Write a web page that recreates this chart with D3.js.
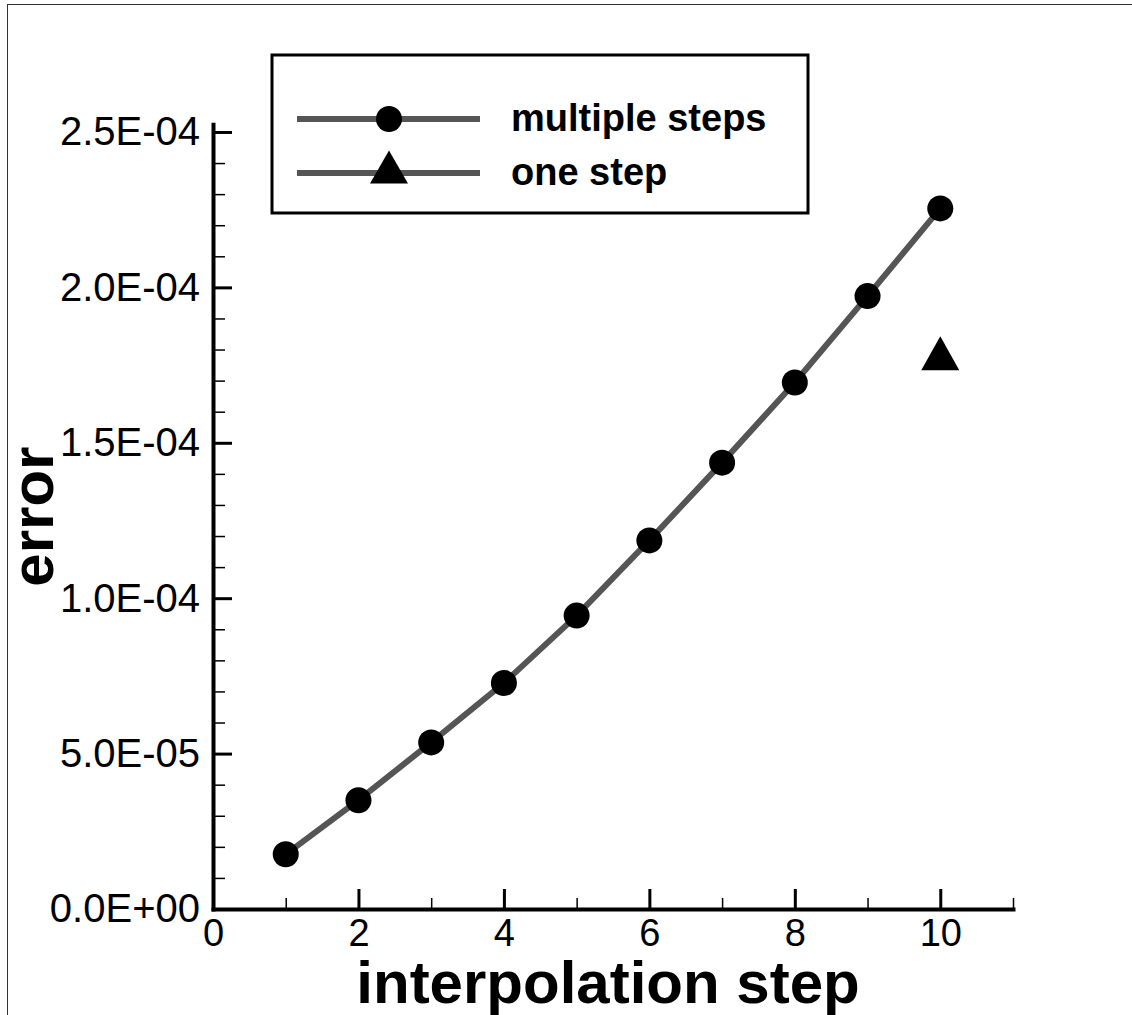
<!DOCTYPE html>
<html>
<head>
<meta charset="utf-8">
<script src="https://cdn.jsdelivr.net/npm/d3@7"></script>
<style>
  html, body { margin: 0; padding: 0; background: #fff; }
  svg { display: block; }
  text { font-family: "Liberation Sans", Arial, Helvetica, sans-serif; fill: #000; }
</style>
</head>
<body>
<svg id="chart" width="1132" height="1015"></svg>
<script>
// Interpolation error against step count
const steps = [1, 2, 3, 4, 5, 6, 7, 8, 9, 10];
const multipleSteps = [1.76e-5, 3.50e-5, 5.36e-5, 7.27e-5, 9.44e-5, 1.186e-4, 1.436e-4, 1.694e-4, 1.972e-4, 2.254e-4];
const oneStepX = [10];
const oneStep = [1.788e-4];

const xMajorTicks = [0, 2, 4, 6, 8, 10];
const xMinorTicks = [1, 3, 5, 7, 9, 11];
const yMajorTicks = [0, 5e-5, 1e-4, 1.5e-4, 2e-4, 2.5e-4];
const yTickLabels = ["0.0E+00", "5.0E-05", "1.0E-04", "1.5E-04", "2.0E-04", "2.5E-04"];
const yMinorTicks = d3.range(1, 25).filter(i => i % 5 !== 0).map(i => i * 1e-5);

const legendItems = ["multiple steps", "one step"];

const svg = d3.select("#chart");

// page frame
svg.append("rect")
  .attr("x", 7.5).attr("y", 4.5)
  .attr("width", 1140).attr("height", 1030)
  .attr("fill", "none").attr("stroke", "#333").attr("stroke-width", 1);

const x = d3.scaleLinear().domain([0, 11]).range([213, 1013]);
const y = d3.scaleLinear().domain([0, 2.525e-4]).range([909, 124.2]);

const lineColor = "#555555";

// y axis
const yAxis = svg.append("g").attr("transform", `translate(${x(0)},0)`)
  .call(d3.axisLeft(y).tickValues(yMajorTicks)
    .tickFormat((d, i) => yTickLabels[i])
    .tickSizeInner(-19).tickSizeOuter(0).tickPadding(13));
yAxis.select(".domain").attr("stroke-width", 4).attr("stroke-linecap", "square");
yAxis.selectAll(".tick line").attr("stroke-width", 3);
yAxis.selectAll(".tick text").attr("font-size", 40).attr("fill", "#000");

svg.append("g").attr("transform", `translate(${x(0)},0)`)
  .call(d3.axisLeft(y).tickValues(yMinorTicks).tickFormat("")
    .tickSizeInner(-12).tickSizeOuter(0))
  .call(g => g.select(".domain").remove())
  .selectAll(".tick line").attr("stroke-width", 1.5);

// x axis
const xAxis = svg.append("g").attr("transform", `translate(0,${y(0)})`)
  .call(d3.axisBottom(x).tickValues(xMajorTicks).tickFormat(d3.format("d"))
    .tickSizeInner(-20).tickSizeOuter(0).tickPadding(10));
xAxis.select(".domain").attr("stroke-width", 4).attr("stroke-linecap", "square");
xAxis.selectAll(".tick line").attr("stroke-width", 3);
xAxis.selectAll(".tick text").attr("font-size", 38).attr("fill", "#000");

svg.append("g").attr("transform", `translate(0,${y(0)})`)
  .call(d3.axisBottom(x).tickValues(xMinorTicks).tickFormat("")
    .tickSizeInner(-11).tickSizeOuter(0))
  .call(g => g.select(".domain").remove())
  .selectAll(".tick line").attr("stroke-width", 1.5);

// axis titles
svg.append("text")
  .attr("x", (x(0) + x(11)) / 2 - 5).attr("y", 1003)
  .attr("text-anchor", "middle")
  .attr("font-size", 60).attr("font-weight", "bold")
  .text("interpolation step");

svg.append("text")
  .attr("transform", `translate(53,${(y(0) + y(2.525e-4)) / 2}) rotate(-90)`)
  .attr("text-anchor", "middle")
  .attr("font-size", 60).attr("font-weight", "bold")
  .text("error");

// multiple steps series
const line = d3.line().x((d, i) => x(steps[i])).y(d => y(d));
svg.append("path")
  .datum(multipleSteps)
  .attr("d", line)
  .attr("fill", "none").attr("stroke", lineColor).attr("stroke-width", 6);

svg.append("g").selectAll("circle")
  .data(multipleSteps)
  .join("circle")
  .attr("cx", (d, i) => x(steps[i])).attr("cy", d => y(d))
  .attr("r", 13).attr("fill", "#000");

// one step marker
const triPath = (cx, cy, hw, hh) =>
  `M${cx},${cy - hh}L${cx + hw},${cy + hh}L${cx - hw},${cy + hh}Z`;

svg.append("g").selectAll("path")
  .data(oneStep)
  .join("path")
  .attr("d", (d, i) => triPath(x(oneStepX[i]), y(d), 19, 17))
  .attr("fill", "#000");

// legend
const legend = svg.append("g");
legend.append("rect")
  .attr("x", 272).attr("y", 55).attr("width", 536).attr("height", 158)
  .attr("fill", "#fff").attr("stroke", "#000").attr("stroke-width", 3);

const rowY = [119, 173];
legendItems.forEach((label, i) => {
  legend.append("line")
    .attr("x1", 297).attr("x2", 480).attr("y1", rowY[i]).attr("y2", rowY[i])
    .attr("stroke", lineColor).attr("stroke-width", 6);
  if (i === 0) {
    legend.append("circle").attr("cx", 389).attr("cy", rowY[i]).attr("r", 13).attr("fill", "#000");
  } else {
    legend.append("path").attr("d", triPath(389, rowY[i] - 6, 19, 16.5)).attr("fill", "#000");
  }
  legend.append("text")
    .attr("x", 511).attr("y", rowY[i] + 12)
    .attr("font-size", 38).attr("font-weight", "bold")
    .text(label);
});
</script>
</body>
</html>
